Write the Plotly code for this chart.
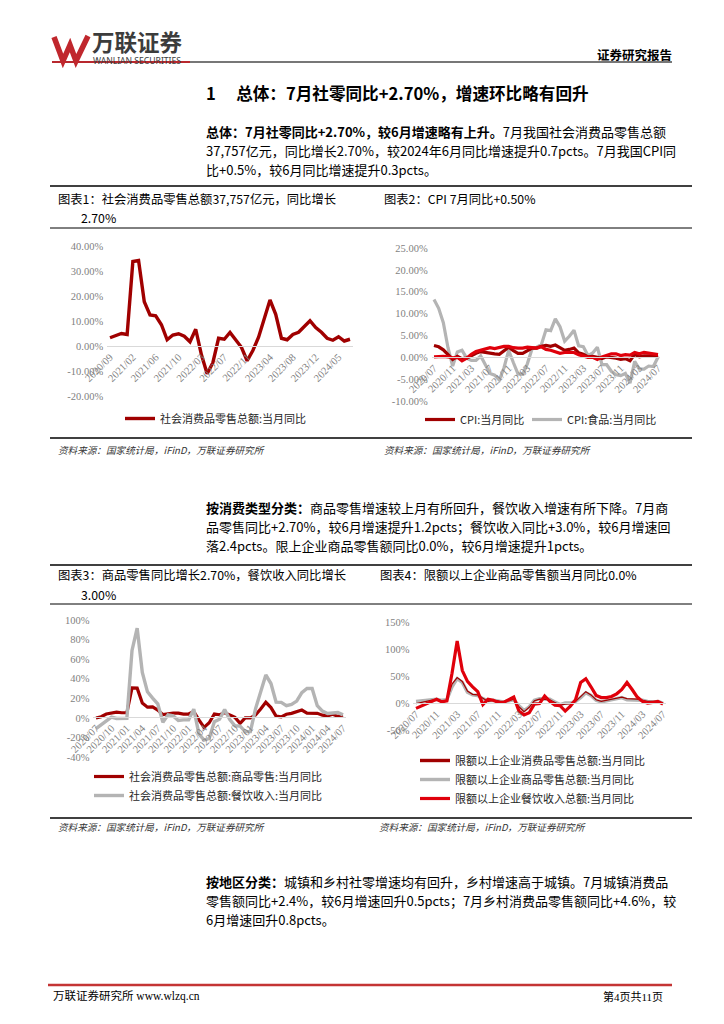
import plotly.graph_objects as go

W, H = 724, 1024
OFF = 8  # page body margin of the html page
def px(x): return (x - OFF) / W
def py(y): return 1 - (y - OFF) / H

DARK_RED = "#a00000"
BRIGHT_RED = "#e0000b"
GRAY = "#b4b4b4"
TICK = "#7f7f7f"
FONT = "Noto Sans CJK SC"
SERIF = "Liberation Serif, Noto Sans CJK SC"

# ---------------- data ----------------
months_1 = ["2020/09", "2020/10", "2020/11", "2020/12",
            "2021/02", "2021/03", "2021/04", "2021/05", "2021/06", "2021/07", "2021/08", "2021/09", "2021/10", "2021/11", "2021/12",
            "2022/02", "2022/03", "2022/04", "2022/05", "2022/06", "2022/07", "2022/08", "2022/09", "2022/10", "2022/11", "2022/12",
            "2023/02", "2023/03", "2023/04", "2023/05", "2023/06", "2023/07", "2023/08", "2023/09", "2023/10", "2023/11", "2023/12",
            "2024/02", "2024/03", "2024/04", "2024/05", "2024/06", "2024/07"]
retail_yoy = [3.3, 4.3, 5.0, 4.6,
              33.8, 34.2, 17.7, 12.4, 12.1, 8.5, 2.5, 4.4, 4.9, 3.9, 1.7,
              6.7, -3.5, -11.1, -6.7, 3.1, 2.7, 5.4, 2.5, -0.5, -5.9, -1.8,
              3.5, 10.6, 18.4, 12.7, 3.1, 2.5, 4.6, 5.5, 7.6, 10.1, 7.4,
              5.5, 3.1, 2.3, 3.7, 2.0, 2.7]
ticks_1 = ["2020/09", "2021/02", "2021/06", "2021/10", "2022/03", "2022/07", "2022/11",
           "2023/04", "2023/08", "2023/12", "2024/05"]

months_2 = ["2020/07", "2020/08", "2020/09", "2020/10", "2020/11", "2020/12",
            "2021/01", "2021/02", "2021/03", "2021/04", "2021/05", "2021/06", "2021/07", "2021/08", "2021/09", "2021/10", "2021/11", "2021/12",
            "2022/01", "2022/02", "2022/03", "2022/04", "2022/05", "2022/06", "2022/07", "2022/08", "2022/09", "2022/10", "2022/11", "2022/12",
            "2023/01", "2023/02", "2023/03", "2023/04", "2023/05", "2023/06", "2023/07", "2023/08", "2023/09", "2023/10", "2023/11", "2023/12",
            "2024/01", "2024/02", "2024/03", "2024/04", "2024/05", "2024/06", "2024/07"]
cpi_yoy = [2.7, 2.4, 1.7, 0.5, -0.5, 0.2,
           -0.3, -0.2, 0.4, 0.9, 1.3, 1.1, 1.0, 0.8, 0.7, 1.5, 2.3, 1.5,
           0.9, 0.9, 1.5, 2.1, 2.1, 2.5, 2.7, 2.5, 2.8, 2.1, 1.6, 1.8,
           2.1, 1.0, 0.7, 0.1, 0.2, 0.0, -0.3, 0.1, 0.0, -0.2, -0.5, -0.3,
           -0.8, 0.7, 0.1, 0.3, 0.3, 0.2, 0.5]
cpi_nonfood_yoy = [0.1, 0.2, 0.2, 0.1, -0.1, 0.0,
                   -0.8, -0.2, 0.7, 1.3, 1.6, 1.8, 2.2, 2.0, 2.2, 2.5, 2.5, 2.2,
                   2.1, 2.1, 2.3, 2.2, 2.1, 2.4, 1.8, 1.6, 1.3, 0.9, 1.1, 1.1,
                   1.1, 0.6, 0.3, 0.0, 0.0, -0.5, 0.1, 0.5, 0.8, 0.8, 0.4, 0.6,
                   0.5, 1.1, 0.8, 1.1, 0.9, 0.8, 0.6]
cpi_food_yoy = [13.2, 11.2, 7.9, 2.2, -2.0, 1.2,
                1.6, -0.2, -0.7, -0.7, 0.3, -1.7, -3.7, -4.1, -5.2, -2.4, 1.6, -1.2,
                -3.8, -3.9, -1.5, 1.9, 2.3, 2.9, 6.3, 6.1, 8.8, 7.0, 3.7, 4.8,
                6.2, 2.6, 2.4, 0.4, 1.0, 2.3, -1.7, -1.7, -3.2, -4.0, -4.2, -3.7,
                -5.9, -0.9, -2.7, -2.7, -2.0, -2.1, 0.0]
ticks_2 = ["2020/07", "2020/11", "2021/03", "2021/07", "2021/11", "2022/03", "2022/07",
           "2022/11", "2023/03", "2023/07", "2023/11", "2024/03", "2024/07"]

goods_yoy = [-0.1, 1.1, 3.9, 4.7, 5.8, 5.2,
             5.2, 30.7, 30.4, 15.1, 10.9, 11.1, 8.0, 3.3, 4.5, 4.9, 4.8, 3.9,
             3.9, 6.5, -2.1, -9.7, -5.0, 3.9, 3.2, 5.1, 3.0, 0.5, -5.6, -0.1,
             -0.1, 2.9, 9.1, 15.9, 10.5, 1.7, 1.0, 3.7, 4.6, 6.5, 8.0, 4.8,
             4.8, 4.6, 2.7, 2.0, 3.6, 1.5, 2.7]
catering_yoy = [-11.0, -7.0, -2.9, 0.8, -0.6, -0.4,
                -0.4, 68.9, 91.6, 46.4, 26.6, 20.2, 14.3, -4.5, 3.1, 2.0, -2.7, -2.1,
                -2.1, 8.9, -16.4, -22.7, -21.1, -4.0, -1.5, 8.4, -1.7, -8.1, -8.4, -14.1,
                -14.1, 9.2, 26.3, 43.8, 35.1, 16.1, 15.8, 12.4, 13.8, 17.1, 25.8, 30.0,
                30.0, 12.5, 6.9, 4.4, 5.0, 5.4, 3.0]
ticks_3 = ["2020/07", "2020/10", "2021/01", "2021/04", "2021/07", "2021/10", "2022/01", "2022/04",
           "2022/07", "2022/10", "2023/01", "2023/04", "2023/07", "2023/10", "2024/01", "2024/04", "2024/07"]

above_total_yoy = [-1, 1, 4, 6, 7, 4,
                   5, 35, 47, 40, 22, 16, 15, 9, 3, 5, 4, 1,
                   4, 7, -7, -16, -8, 4, 7, 6, 6, 1, -4, -2,
                   -1, 3, 13, 21, 15, 6, 3, 5, 7, 10, 11, 8,
                   8, 7, 5, 3, 3, 3, 0]
above_goods_yoy = [3, 4, 5, 6, 7, 5,
                   6, 30, 45, 38, 20, 15, 14, 8, 4, 5, 4, 2,
                   4, 6, -5, -14, -7, 5, 8, 7, 7, 2, -3, 0,
                   0, 3, 10, 19, 14, 5, 2, 4, 6, 9, 10, 6,
                   6, 6, 5, 3, 2, 3, 0]
above_catering_yoy = [-10, -6, -2, 2, 7, 2,
                      4, 55, 115, 60, 40, 30, 21, -3, 7, 5, 1, 1,
                      6, 11, -15, -22, -18, -2, -1, 13, 3, -4, -5, -15,
                      -6, 6, 38, 45, 30, 14, 10, 10, 12, 17, 25, 38,
                      25, 11, 3, 0, 1, 3, -2]
ticks_4 = ticks_2

y_vals_1 = [-20, -10, 0, 10, 20, 30, 40]
y_text_1 = ["-20.00%", "-10.00%", "0.00%", "10.00%", "20.00%", "30.00%", "40.00%"]
y_vals_2 = [-10, -5, 0, 5, 10, 15, 20, 25]
y_text_2 = ["-10.00%", "-5.00%", "0.00%", "5.00%", "10.00%", "15.00%", "20.00%", "25.00%"]
y_vals_3 = [-40, -20, 0, 20, 40, 60, 80, 100]
y_text_3 = ["-40%", "-20%", "0%", "20%", "40%", "60%", "80%", "100%"]
y_vals_4 = [-50, 0, 50, 100, 150]
y_text_4 = ["-50%", "0%", "50%", "100%", "150%"]

# ---------------- traces ----------------
fig = go.Figure()
fig.add_trace(go.Scatter(x=months_1, y=retail_yoy, mode="lines", name="社会消费品零售总额:当月同比",
                         line=dict(color=DARK_RED, width=3.4), xaxis="x", yaxis="y", legend="legend"))

fig.add_trace(go.Scatter(x=months_2, y=cpi_food_yoy, mode="lines", name="CPI:食品:当月同比",
                         line=dict(color=GRAY, width=3.2), xaxis="x2", yaxis="y2", legend="legend3"))
fig.add_trace(go.Scatter(x=months_2, y=cpi_yoy, mode="lines", name="CPI:当月同比",
                         line=dict(color=DARK_RED, width=3.2), xaxis="x2", yaxis="y2", legend="legend2"))
fig.add_trace(go.Scatter(x=months_2, y=cpi_nonfood_yoy, mode="lines", name="CPI:非食品:当月同比", showlegend=False,
                         line=dict(color=BRIGHT_RED, width=3.2), xaxis="x2", yaxis="y2"))

fig.add_trace(go.Scatter(x=months_2, y=goods_yoy, mode="lines", name="社会消费品零售总额:商品零售:当月同比",
                         line=dict(color=DARK_RED, width=3.2), xaxis="x3", yaxis="y3", legend="legend4"))
fig.add_trace(go.Scatter(x=months_2, y=catering_yoy, mode="lines", name="社会消费品零售总额:餐饮收入:当月同比",
                         line=dict(color=GRAY, width=3.4), xaxis="x3", yaxis="y3", legend="legend4"))

fig.add_trace(go.Scatter(x=months_2, y=above_goods_yoy, mode="lines", name="限额以上企业商品零售总额:当月同比",
                         line=dict(color=GRAY, width=3.4), xaxis="x4", yaxis="y4", legend="legend5", legendrank=2))
fig.add_trace(go.Scatter(x=months_2, y=above_total_yoy, mode="lines", name="限额以上企业消费品零售总额:当月同比",
                         showlegend=False, line=dict(color=DARK_RED, width=1.2), xaxis="x4", yaxis="y4"))
fig.add_trace(go.Scatter(x=months_2, y=above_catering_yoy, mode="lines", name="限额以上企业餐饮收入总额:当月同比",
                         line=dict(color=BRIGHT_RED, width=3.2), xaxis="x4", yaxis="y4", legend="legend5", legendrank=3))
# legend entry (thick sample) for the thin total line
fig.add_trace(go.Scatter(x=[months_2[0]], y=[None], mode="lines", name="限额以上企业消费品零售总额:当月同比",
                         line=dict(color=DARK_RED, width=3.4), xaxis="x4", yaxis="y4", legend="legend5", legendrank=1,
                         hoverinfo="skip"))

# ---------------- axes ----------------
def xax(x0, x1, n, zero_y, ticks):
    step = (x1 - x0) / (n - 1)
    return dict(domain=[px(x0 - step / 2), px(x1 + step / 2)], type="category", range=[-0.5, n - 0.5],
                anchor="free", position=py(zero_y), showline=True, linecolor="#d9d9d9", linewidth=1,
                showgrid=False, zeroline=False, ticks="", tickmode="array", tickvals=ticks, ticktext=ticks,
                tickangle=-45, tickfont=dict(family=SERIF, size=10.5, color=TICK), fixedrange=True,
                automargin=False)

def yax(top, bot, rng, vals, texts, anchor):
    return dict(domain=[py(bot), py(top)], range=rng, anchor=anchor, tickmode="array", tickvals=vals,
                ticktext=texts, showgrid=False, zeroline=False, showline=False, ticks="",
                ticklabelstandoff=3,
                tickfont=dict(family=SERIF, size=10.5, color=TICK), fixedrange=True, automargin=False)

layout = dict(
    width=W, height=H, margin=dict(l=0, r=0, t=0, b=0, autoexpand=False),
    paper_bgcolor="white", plot_bgcolor="white",
    font=dict(family=FONT, color="#000000"),
    xaxis=xax(110, 350, len(months_1), 346, ticks_1),
    yaxis=yax(246, 396, [-20, 40], y_vals_1, y_text_1, "x"),
    xaxis2=xax(434, 658, len(months_2), 357, ticks_2),
    yaxis2=yax(248, 401, [-10, 25], y_vals_2, y_text_2, "x2"),
    xaxis3=xax(96, 343, len(months_2), 717, ticks_3),
    yaxis3=yax(620, 757, [-40, 100], y_vals_3, y_text_3, "x3"),
    xaxis4=xax(416, 663, len(months_2), 703, ticks_4),
    yaxis4=yax(622, 730, [-50, 150], y_vals_4, y_text_4, "x4"),
)

def leg(x, y):
    return dict(x=px(x), y=py(y), xanchor="left", yanchor="top", bgcolor="rgba(0,0,0,0)",
                font=dict(family=FONT, size=11, color="#262626"), itemwidth=30, tracegroupgap=0,
                orientation="v", traceorder="normal")

layout["legend"] = leg(120, 404)
layout["legend2"] = leg(420, 405)
layout["legend3"] = leg(527, 405)
layout["legend4"] = leg(89, 762)
layout["legend5"] = leg(415, 746)
fig.update_layout(**layout)

# ---------------- text ----------------
ann = []
def txt(x, y, s, size=13, color="#000000", xanchor="left", family=FONT):
    ann.append(dict(x=px(x), y=py(y), xref="paper", yref="paper", text=s, showarrow=False,
                    xanchor=xanchor, yanchor="middle", borderpad=0,
                    font=dict(family=family, size=size, color=color)))

# header
txt(91, 41, "<b>万联证券</b>", size=22.5, color="#3c3c3c")
txt(92, 61, "WANLIAN SECURITIES", size=8.6, color="#3c3c3c", family="Noto Sans, Noto Sans CJK SC")
txt(673, 54, "<b>证券研究报告</b>", size=12.5, xanchor="right")

txt(205, 93, "<b>1　 总体：7月社零同比+2.70%，增速环比略有回升</b>", size=16.6)

BODY = 13.0
txt(205, 131, "<b>总体：7月社零同比+2.70%，较6月增速略有上升。</b>7月我国社会消费品零售总额", size=BODY)
txt(205, 150, "37,757亿元，同比增长2.70%，较2024年6月同比增速提升0.7pcts。7月我国CPI同", size=BODY)
txt(205, 169, "比+0.5%，较6月同比增速提升0.3pcts。", size=BODY)

CAP = 12.3
txt(57, 199, "图表1：社会消费品零售总额37,757亿元，同比增长", size=CAP)
txt(80, 218, "2.70%", size=CAP)
txt(383, 199, "图表2：CPI 7月同比+0.50%", size=CAP)

src = "<i>资料来源：国家统计局，iFinD，万联证券研究所</i>"
txt(57, 450, src, size=9.6, color="#333333")
txt(383, 450, src, size=9.6, color="#333333")

txt(205, 507, "<b>按消费类型分类：</b>商品零售增速较上月有所回升，餐饮收入增速有所下降。7月商", size=BODY)
txt(205, 526, "品零售同比+2.70%，较6月增速提升1.2pcts；餐饮收入同比+3.0%，较6月增速回", size=BODY)
txt(205, 545, "落2.4pcts。限上企业商品零售额同比0.0%，较6月增速提升1pcts。", size=BODY)

txt(57, 575, "图表3：商品零售同比增长2.70%，餐饮收入同比增长", size=CAP)
txt(80, 595, "3.00%", size=CAP)
txt(379, 575, "图表4：限额以上企业商品零售额当月同比0.0%", size=CAP)

txt(57, 827, src, size=9.6, color="#333333")
txt(378, 827, src, size=9.6, color="#333333")

txt(205, 881, "<b>按地区分类：</b>城镇和乡村社零增速均有回升，乡村增速高于城镇。7月城镇消费品", size=BODY)
txt(205, 900, "零售额同比+2.4%，较6月增速回升0.5pcts；7月乡村消费品零售额同比+4.6%，较", size=BODY)
txt(205, 919, "6月增速回升0.8pcts。", size=BODY)

txt(52, 996, "万联证券研究所 www.wlzq.cn", size=11.5, family="Liberation Serif, Noto Sans CJK SC")
txt(664, 996, "第4页共11页", size=11, xanchor="right", family="Liberation Serif, Noto Sans CJK SC")

# ---------------- shapes ----------------
shp = []
def hline(x0, x1, y, width=1.0, color="#000000"):
    shp.append(dict(type="line", xref="paper", yref="paper", x0=px(x0), x1=px(x1), y0=py(y), y1=py(y),
                    line=dict(color=color, width=width)))

hline(52, 190, 62, 2.0, "#b8282e")
hline(190, 672, 62, 1.4, "#4a4a4a")
hline(50, 692, 186, 1.6)
hline(50, 692, 228, 1.0)
hline(50, 692, 438, 1.6)
hline(50, 692, 565, 1.6)
hline(50, 692, 604, 1.0)
hline(50, 692, 818, 1.6)
hline(48, 672, 985, 2.6, "#c43434")

# logo "W"
pts = [(54, 37), (63, 61), (70, 45), (76, 61), (88, 36)]
path = "M " + " L ".join(f"{px(a):.5f},{py(b):.5f}" for a, b in pts)
shp.append(dict(type="path", xref="paper", yref="paper", path=path, line=dict(color="#c0272d", width=5.5)))

fig.update_layout(annotations=ann, shapes=shp)
fig.write_html("out.html")
